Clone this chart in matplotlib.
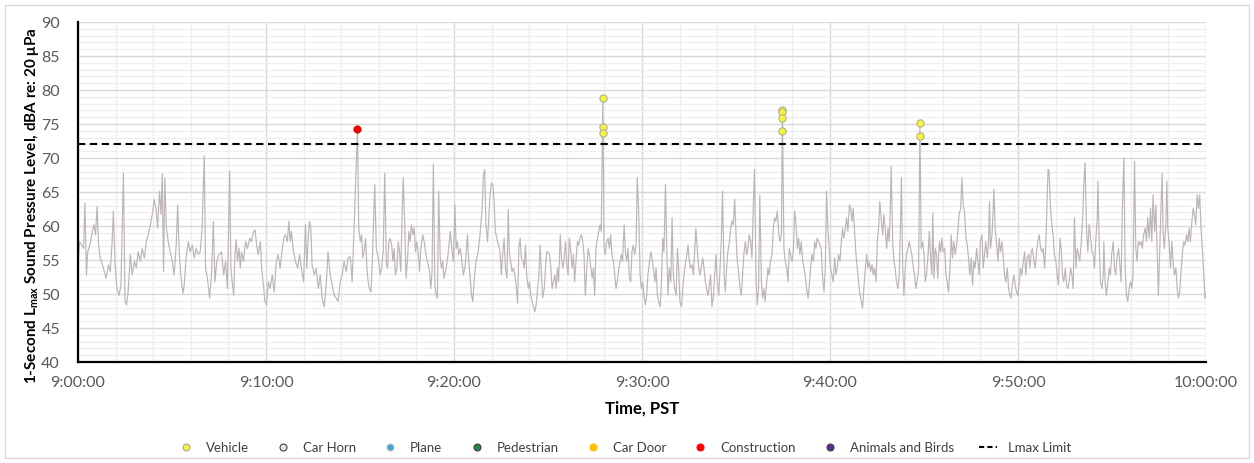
import matplotlib
matplotlib.use("Agg")
import matplotlib.pyplot as plt
from matplotlib.lines import Line2D
from matplotlib.patches import Rectangle
import numpy as np

plt.rcParams['font.family'] = ['Lato', 'DejaVu Sans']
plt.rcParams['mathtext.fontset'] = 'custom'
plt.rcParams['mathtext.bf'] = 'Lato:bold'
plt.rcParams['mathtext.rm'] = 'Lato'

# ---------------- data (seconds after 9:00:00, dBA) ----------------
t_a = [0, 5, 12, 18, 22, 27, 31, 38, 46, 51,
       56, 61, 65, 71, 78, 84, 90, 97, 103, 109,
       113, 118, 124, 131, 137, 145, 150, 155, 160, 167,
       173, 180, 186, 192, 199, 205, 212, 218, 224, 231,
       237, 243, 249, 254, 260, 265, 269, 273, 277, 282,
       288, 294, 301, 307, 314, 318, 323, 328, 335, 339,
       345, 352, 358, 365, 371, 377, 384, 390, 396, 403,
       407, 413, 420, 426, 432, 437, 443, 450]
v_a = [53.8, 57.7, 57.2, 56.7, 63.4, 52.8, 56.2, 57.2, 59.2, 60.2,
       58.7, 62.9, 57.7, 55.3, 54.3, 53.3, 52.3, 54.3, 53.3, 57.7,
       62.2, 54.8, 50.8, 49.8, 51.3, 67.8, 48.9, 48.4, 50.3, 55.8,
       52.8, 54.8, 53.8, 56.2, 54.8, 56.7, 55.3, 57.7, 58.7, 60.2,
       61.7, 63.9, 62.6, 59.7, 65.1, 61.7, 67.7, 53.3, 67.1, 59.7,
       57.7, 56.2, 54.8, 52.8, 57.7, 63.1, 56.2, 52.8, 50.1, 51.3,
       55.3, 57.7, 56.2, 57.2, 55.3, 56.7, 55.8, 56.2, 59.7, 70.3,
       53.8, 52.3, 49.4, 52.8, 60.7, 51.8, 54.8, 55.8]

t_b = [458, 465, 471, 477, 484, 488, 492, 497, 501, 505,
       509, 514, 518, 522, 528, 535, 541, 548, 554, 560,
       565, 570, 575, 582, 586, 592, 596, 602, 607, 613,
       620, 626, 633, 639, 645, 652, 657, 662, 668, 673,
       677, 681, 688, 694, 701, 707, 713, 720, 726, 730,
       735, 739, 743, 747, 754, 760, 767, 773, 779, 786,
       792, 798, 805, 811, 818, 824, 830, 837, 843, 849,
       856, 862, 869, 875, 881, 892]
v_b = [56.2, 52.8, 54.8, 50.8, 68.1, 53.8, 51.8, 49.8, 55.8, 58.0,
       54.8, 56.7, 53.8, 56.2, 54.8, 57.7, 56.7, 58.2, 57.7, 59.2,
       59.4, 57.2, 55.8, 57.7, 53.8, 51.3, 48.9, 48.4, 51.8, 50.8,
       52.8, 50.3, 54.8, 55.8, 53.8, 56.7, 58.2, 58.7, 57.7, 60.7,
       57.7, 59.2, 56.2, 54.8, 53.8, 55.8, 53.8, 51.8, 60.2, 53.8,
       58.7, 60.7, 59.7, 54.3, 52.8, 53.8, 50.8, 52.8, 49.4, 48.1,
       51.3, 56.2, 52.8, 51.3, 49.8, 49.4, 48.9, 51.8, 52.8, 54.8,
       53.3, 55.3, 55.5, 51.8, 59.7, 74.2]

t_c = [896, 901, 905, 909, 913, 918, 922, 926, 930, 935,
       939, 943, 947, 952, 956, 960, 964, 969, 974, 979,
       984, 988, 992, 996, 1001, 1005, 1009, 1013, 1018, 1022,
       1026, 1030, 1035, 1038, 1043, 1047, 1052, 1056, 1060, 1064,
       1069, 1073, 1077, 1081, 1086, 1090, 1094, 1100, 1105, 1109,
       1115, 1122, 1126, 1130, 1134, 1139, 1143, 1147, 1151, 1156,
       1160, 1164, 1168, 1175, 1181, 1188, 1194, 1198, 1203, 1207,
       1211, 1215, 1220, 1224, 1230, 1236, 1243, 1247, 1251, 1256,
       1260, 1264, 1270, 1277, 1283, 1290, 1294, 1298, 1302, 1307,
       1311, 1315, 1319, 1324, 1328, 1332, 1339, 1345]
v_c = [59.7, 57.7, 58.7, 55.3, 56.2, 58.2, 53.8, 51.8, 50.8, 50.3,
       54.3, 60.2, 66.1, 56.7, 55.8, 54.8, 52.8, 53.8, 56.2, 67.8,
       54.3, 53.8, 57.7, 58.2, 57.2, 54.8, 56.7, 52.8, 53.8, 57.7,
       56.2, 53.3, 62.6, 67.1, 59.7, 52.3, 55.3, 59.2, 57.7, 60.2,
       58.7, 59.7, 56.2, 57.7, 55.8, 53.3, 56.7, 58.7, 57.7, 56.2,
       54.8, 53.3, 50.8, 53.3, 69.1, 51.3, 49.8, 49.4, 65.1, 55.3,
       53.8, 54.8, 52.3, 53.8, 55.8, 59.2, 56.2, 54.8, 63.1, 56.7,
       57.7, 55.8, 56.7, 55.3, 52.8, 54.3, 58.7, 54.8, 52.8, 49.8,
       48.9, 51.8, 54.8, 56.2, 58.7, 62.6, 67.6, 68.3, 60.2, 57.7,
       61.2, 64.6, 66.3, 66.1, 63.6, 59.2, 57.7, 56.7]

t_d = [1347, 1351, 1356, 1360, 1364, 1369, 1373, 1377, 1381, 1385,
       1390, 1394, 1398, 1403, 1407, 1411, 1415, 1420, 1424, 1428,
       1432, 1437, 1441, 1445, 1449, 1454, 1458, 1462, 1466, 1471,
       1475, 1479, 1483, 1488, 1492, 1496, 1500, 1505, 1509, 1513,
       1517, 1522, 1526, 1530, 1534, 1539, 1543, 1547, 1551, 1556,
       1560, 1564, 1568, 1573, 1577, 1581, 1585, 1590, 1594, 1598,
       1602, 1607, 1611, 1615, 1619, 1624, 1628, 1632, 1636, 1641,
       1645, 1649, 1653, 1658, 1662, 1666, 1670, 1675, 1679, 1683,
       1687, 1692, 1696, 1700, 1704, 1709, 1713, 1717, 1721, 1726,
       1730, 1734, 1738, 1743, 1747, 1751, 1755, 1760, 1764, 1768,
       1772, 1777, 1781, 1785, 1789]
v_d = [56.2, 52.8, 56.2, 58.2, 53.8, 52.3, 62.4, 55.8, 54.8, 53.3,
       53.8, 52.8, 51.3, 48.6, 56.7, 58.2, 55.3, 54.8, 53.8, 57.2,
       52.8, 50.8, 51.8, 49.8, 48.9, 48.1, 47.4, 48.4, 50.3, 52.8,
       57.2, 52.8, 49.4, 50.8, 53.8, 56.2, 56.2, 55.8, 53.8, 50.8,
       51.8, 52.8, 50.8, 53.8, 51.8, 58.7, 55.3, 53.8, 54.8, 57.7,
       54.3, 52.8, 58.2, 56.2, 53.8, 55.8, 51.8, 55.3, 57.7, 57.2,
       58.2, 58.7, 57.7, 55.8, 49.8, 53.8, 56.7, 55.8, 54.3, 52.3,
       53.8, 49.8, 56.7, 58.2, 59.2, 60.2, 59.2, 78.8, 56.7, 55.8,
       57.7, 58.2, 56.7, 58.7, 55.8, 54.8, 52.8, 50.8, 51.8, 53.8,
       54.8, 55.8, 54.8, 60.2, 56.2, 54.8, 56.7, 52.3, 51.8, 56.2,
       57.2, 55.8, 57.2, 67.1, 62.6]

t_e = [1794, 1798, 1802, 1807, 1811, 1815, 1819, 1824, 1828, 1832,
       1836, 1841, 1845, 1849, 1853, 1858, 1862, 1866, 1870, 1875,
       1879, 1883, 1887, 1892, 1896, 1900, 1904, 1909, 1913, 1917,
       1921, 1926, 1930, 1934, 1938, 1943, 1947, 1951, 1955, 1960,
       1964, 1968, 1972, 1977, 1981, 1985, 1989, 1994, 1998, 2002,
       2006, 2011, 2015, 2019, 2023, 2028, 2032, 2036, 2040, 2045,
       2049, 2053, 2057, 2062, 2066, 2070, 2074, 2079, 2083, 2087,
       2091, 2096, 2100, 2104, 2108, 2113, 2117, 2121, 2125, 2130,
       2134, 2138, 2142, 2147, 2151, 2155, 2159, 2164, 2168, 2172,
       2176, 2181, 2185, 2189, 2193, 2198, 2202, 2206, 2210, 2215,
       2219, 2223, 2227, 2232, 2236]
v_e = [52.8, 50.8, 51.8, 49.4, 48.4, 49.8, 52.8, 54.8, 56.2, 55.3,
       53.8, 51.8, 53.8, 49.8, 48.9, 48.1, 51.8, 58.2, 56.2, 66.1,
       56.7, 49.8, 53.8, 51.8, 61.2, 52.8, 50.8, 49.8, 56.7, 53.8,
       48.9, 48.1, 50.8, 52.8, 54.3, 55.8, 57.2, 54.8, 53.8, 54.3,
       52.8, 56.2, 59.6, 56.2, 53.8, 52.8, 53.8, 55.3, 53.8, 51.8,
       50.8, 49.8, 51.3, 52.8, 48.1, 49.8, 52.8, 55.8, 51.8, 49.8,
       53.8, 57.7, 65.1, 52.8, 50.3, 53.8, 56.2, 57.7, 59.7, 60.7,
       60.2, 63.9, 58.7, 54.8, 53.3, 50.8, 49.8, 52.8, 55.8, 57.7,
       55.8, 56.7, 58.7, 57.7, 55.3, 62.6, 68.3, 52.3, 48.4, 50.8,
       64.6, 51.8, 49.4, 50.8, 48.9, 51.8, 53.8, 52.8, 54.8, 55.8,
       59.7, 61.2, 60.7, 62.2, 59.2]

t_f = [2240, 2245, 2248, 2253, 2257, 2262, 2266, 2270, 2274, 2279,
       2283, 2287, 2291, 2296, 2300, 2304, 2308, 2313, 2317, 2321,
       2325, 2330, 2334, 2338, 2342, 2347, 2351, 2355, 2359, 2364,
       2368, 2372, 2376, 2381, 2385, 2389, 2393, 2398, 2402, 2406,
       2410, 2415, 2419, 2423, 2427, 2432, 2436, 2440, 2444, 2449,
       2453, 2457, 2462, 2466, 2470, 2474, 2479, 2483, 2487, 2491,
       2496, 2500, 2504, 2508, 2513, 2517, 2521, 2525, 2530, 2534,
       2538, 2542, 2547, 2551, 2555, 2559, 2564, 2568, 2572, 2576,
       2581, 2585, 2589, 2593, 2595, 2600, 2604, 2608, 2612, 2617,
       2621, 2625, 2628, 2632, 2636, 2640, 2644, 2649, 2653, 2657,
       2661, 2666, 2670, 2674, 2678, 2683]
v_f = [57.7, 58.7, 77.1, 56.7, 54.8, 53.8, 51.8, 56.7, 55.8, 54.8,
       56.2, 62.2, 60.7, 56.7, 58.2, 55.8, 57.7, 54.8, 53.8, 52.8,
       50.8, 49.4, 51.3, 53.8, 55.8, 54.8, 57.7, 56.7, 58.2, 57.7,
       57.2, 56.7, 52.8, 50.3, 53.8, 65.1, 59.7, 56.2, 53.8, 52.8,
       51.8, 55.3, 52.8, 53.8, 55.8, 54.8, 57.7, 59.7, 58.2, 59.7,
       61.2, 59.2, 63.1, 62.6, 60.7, 62.6, 58.7, 55.8, 53.8, 51.8,
       49.8, 48.9, 47.9, 50.8, 53.8, 55.8, 53.8, 54.8, 53.3, 54.3,
       52.8, 53.8, 51.8, 57.7, 59.7, 63.6, 60.7, 58.7, 61.7, 59.7,
       56.7, 59.7, 57.7, 63.6, 68.8, 57.7, 54.8, 53.8, 51.8, 50.8,
       52.8, 60.2, 67.1, 53.8, 49.8, 53.8, 55.8, 56.7, 57.7, 56.7,
       55.8, 53.8, 52.8, 50.8, 51.8, 53.8]

t_g = [2687, 2691, 2696, 2700, 2704, 2708, 2713, 2717, 2721, 2725,
       2728, 2732, 2736, 2740, 2744, 2749, 2753, 2757, 2761, 2766,
       2770, 2774, 2778, 2783, 2787, 2791, 2795, 2800, 2804, 2808,
       2812, 2817, 2821, 2825, 2829, 2834, 2838, 2842, 2846, 2851,
       2855, 2859, 2863, 2868, 2872, 2876, 2880, 2885, 2889, 2893,
       2897, 2902, 2906, 2909, 2912, 2917, 2921, 2923, 2927, 2931,
       2936, 2940, 2944, 2949, 2953, 2957, 2961, 2966, 2970, 2974,
       2978, 2983, 2987, 2991, 2995, 3000, 3004, 3008, 3012, 3017,
       3021, 3025, 3029, 3034, 3038, 3042, 3046, 3051, 3055, 3059,
       3063, 3068, 3072, 3076, 3080, 3085, 3089, 3093, 3096, 3099,
       3104, 3108, 3112, 3116, 3121, 3125, 3129]
v_g = [75.2, 56.7, 57.7, 55.8, 51.8, 52.8, 55.8, 59.2, 55.3, 52.8,
       61.9, 52.3, 56.7, 55.8, 52.3, 57.7, 56.2, 58.2, 56.2, 56.7,
       52.8, 51.8, 50.3, 53.8, 58.7, 55.3, 57.7, 55.8, 57.2, 59.2,
       61.7, 62.6, 67.1, 63.1, 62.2, 58.2, 57.2, 55.3, 52.8, 55.3,
       51.3, 54.8, 53.8, 56.7, 54.8, 52.8, 57.7, 58.7, 53.8, 55.8,
       57.7, 55.3, 57.7, 63.6, 56.7, 58.7, 62.6, 65.4, 59.7, 57.7,
       54.8, 58.2, 56.2, 57.7, 55.3, 52.8, 51.8, 53.8, 50.8, 49.8,
       49.4, 51.8, 52.8, 51.3, 50.3, 49.8, 51.8, 53.8, 52.8, 54.8,
       56.2, 52.8, 55.3, 55.8, 53.8, 56.2, 56.7, 54.8, 53.8, 56.2,
       57.7, 58.7, 56.7, 56.2, 56.7, 53.8, 57.7, 64.1, 68.3, 68.1,
       62.6, 60.2, 58.7, 55.8, 54.8, 52.8, 51.3]

t_h = [3134, 3138, 3142, 3146, 3151, 3155, 3159, 3163, 3168, 3172,
       3176, 3180, 3185, 3189, 3193, 3197, 3202, 3206, 3210, 3214,
       3219, 3223, 3227, 3231, 3236, 3240, 3244, 3248, 3253, 3255,
       3259, 3263, 3268, 3272, 3274, 3278, 3282, 3287, 3291, 3295,
       3299, 3304, 3308, 3312, 3316, 3321, 3325, 3329, 3333, 3338,
       3342, 3346, 3350, 3355, 3359, 3363, 3367, 3372, 3376, 3380,
       3384, 3389, 3393, 3397, 3401, 3406, 3410, 3414, 3419, 3423,
       3427, 3431, 3436, 3440, 3444, 3448, 3453, 3457, 3460, 3463,
       3467, 3472, 3475, 3478, 3482, 3487, 3491, 3495, 3499, 3504,
       3508, 3512, 3516, 3521, 3525, 3529, 3533, 3538, 3542, 3546,
       3550, 3555, 3559, 3563, 3567, 3572, 3576, 3580, 3584, 3589,
       3593, 3597, 3600]
v_h = [58.2, 56.7, 52.8, 51.8, 53.8, 51.3, 50.8, 51.8, 53.8, 52.8,
       50.8, 61.2, 53.8, 56.7, 55.8, 54.8, 57.7, 60.7, 66.1, 69.3,
       59.2, 56.2, 60.2, 58.7, 56.2, 55.8, 53.8, 57.7, 61.2, 66.6,
       57.7, 51.8, 50.8, 52.8, 57.7, 51.8, 49.8, 51.8, 53.8, 52.8,
       55.8, 57.7, 53.8, 52.8, 55.3, 56.7, 54.3, 51.8, 62.6, 70.0,
       53.8, 49.8, 48.9, 50.8, 51.8, 50.8, 52.8, 69.5, 56.7, 54.8,
       57.7, 57.2, 57.7, 56.7, 58.7, 59.7, 57.7, 61.2, 58.2, 62.6,
       57.7, 64.6, 59.2, 63.1, 56.2, 49.8, 57.7, 63.6, 67.8, 59.2,
       56.7, 60.2, 66.6, 59.7, 57.7, 53.8, 57.7, 54.8, 52.8, 53.8,
       50.8, 49.4, 50.3, 53.8, 56.2, 57.7, 57.2, 58.7, 57.7, 59.7,
       57.7, 60.7, 62.6, 61.7, 60.2, 64.6, 62.6, 64.6, 59.7, 56.2,
       52.8, 49.4, 50.0]

# identified events
vehicle_t = [1675, 1675, 1675, 2248, 2248, 2248, 2248, 2687, 2687]
vehicle_v = [78.8, 74.5, 73.7, 77.1, 76.75, 75.9, 73.9, 75.2, 73.3]
construction_t = [892]
construction_v = [74.2]

lmax_limit = 72.0

tick_seconds = [0, 600, 1200, 1800, 2400, 3000, 3600]
tick_labels = ["9:00:00", "9:10:00", "9:20:00", "9:30:00", "9:40:00", "9:50:00", "10:00:00"]

legend_names = ["Vehicle", "Car Horn", "Plane", "Pedestrian", "Car Door",
                "Construction", "Animals and Birds", "Lmax Limit"]
legend_faces = ["#F5F53A", "#E6E6E6", "#3FA6DB", "#1F8A4C", "#FFC000", "#FF0000", "#5A2F8E"]
legend_edges = ["#A6A6A6", "#404040", "#BFBFBF", "#404040", "#FFC000", "#FF0000", "#404040"]

# ---------------- figure ----------------
times = np.concatenate([t_a, t_b, t_c, t_d, t_e, t_f, t_g, t_h])
levels = np.concatenate([v_a, v_b, v_c, v_d, v_e, v_f, v_g, v_h])

W, H = 1254, 463
fig = plt.figure(figsize=(W / 100, H / 100), dpi=100)
fig.patches.append(Rectangle((5 / W, 5 / H), 1244 / W, 453 / H, transform=fig.transFigure,
                             fill=False, edgecolor="#D9D9D9", linewidth=1.0))

ax = fig.add_axes([78 / W, 1 - 362 / H, 1128 / W, 340 / H])
ax.set_xlim(0, 3600)
ax.set_ylim(40, 90)

# grid
ax.set_xticks(tick_seconds)
ax.set_xticks(np.arange(0, 3601, 120), minor=True)
ax.set_yticks(np.arange(40, 91, 5))
ax.set_yticks(np.arange(40, 91, 1), minor=True)
ax.grid(which="minor", color="#EFEFEF", linewidth=0.9, zorder=0)
ax.grid(which="major", color="#D9D9D9", linewidth=1.0, zorder=0)
ax.set_axisbelow(True)

ax.plot(times, levels, color="#BDB4B9", linewidth=0.85, zorder=2)
ax.axhline(lmax_limit, color="black", linewidth=1.5, dashes=(3.5, 2.2), zorder=3)
ax.scatter(vehicle_t, vehicle_v, s=28, color=legend_faces[0], edgecolor=legend_edges[0],
           linewidth=0.7, zorder=5)
ax.scatter(construction_t, construction_v, s=28, color=legend_faces[5],
           edgecolor="#C00000", linewidth=0.5, zorder=5)

ax.set_xticklabels(tick_labels)
for s in ["top", "right"]:
    ax.spines[s].set_visible(False)
ax.spines["left"].set_linewidth(1.6)
ax.spines["bottom"].set_linewidth(1.6)
ax.tick_params(which="both", length=0)
ax.tick_params(axis="x", labelsize=11.5, labelcolor="#595959", pad=10)
ax.tick_params(axis="y", labelsize=11.5, labelcolor="#595959", pad=13)

ax.set_xlabel("Time, PST", fontsize=12, fontweight="bold", color="black", labelpad=8)
ax.set_ylabel("1-Second L$_{\\mathbf{max}}$ Sound Pressure Level, dBA re: 20 \u03bcPa",
              fontsize=11, fontweight="bold", color="black")
ax.yaxis.set_label_coords(-37 / 1128, (362 - 206) / 340)

handles = []
for name, fc, ec in zip(legend_names[:-1], legend_faces, legend_edges):
    handles.append(Line2D([], [], linestyle="none", marker="o", markersize=5,
                          markerfacecolor=fc, markeredgecolor=ec, markeredgewidth=0.8))
handles.append(Line2D([], [], color="black", linewidth=1.5, dashes=(2.5, 1.5)))
fig.legend(handles, legend_names, loc="center", bbox_to_anchor=(624 / W, 1 - 448 / H),
           ncol=8, frameon=False, fontsize=9.5, handlelength=1.4, handletextpad=0.8,
           columnspacing=1.9, labelcolor="#404040")

fig.savefig("out.png", dpi=100)
